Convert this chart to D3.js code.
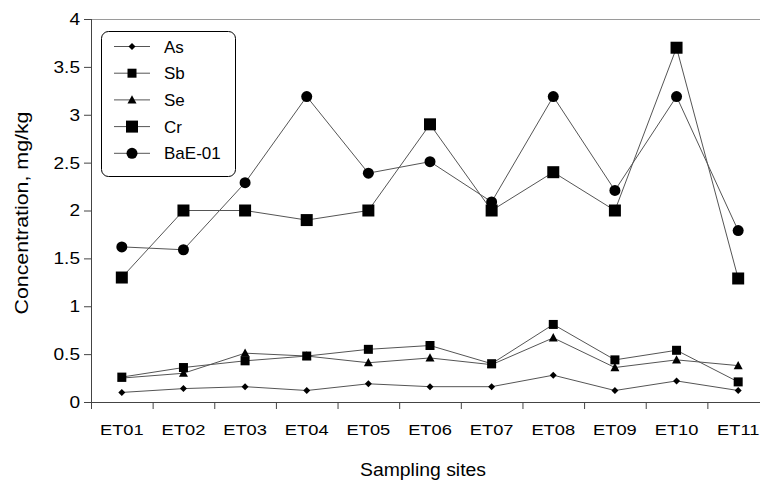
<!DOCTYPE html>
<html><head><meta charset="utf-8">
<script src="https://cdn.jsdelivr.net/npm/d3@7"></script>
<style>body{margin:0;background:#fff}svg{display:block}text{font-family:"Liberation Sans",Arial,sans-serif;fill:#000}</style>
</head><body><svg id="c" width="760" height="481"></svg>
<script>
const sites = ["ET01","ET02","ET03","ET04","ET05","ET06","ET07","ET08","ET09","ET10","ET11"];
const asVals = [0.10,0.14,0.16,0.12,0.19,0.16,0.16,0.28,0.12,0.22,0.12];
const sbVals = [0.26,0.36,0.43,0.48,0.55,0.59,0.40,0.81,0.44,0.54,0.21];
const seVals = [0.25,0.30,0.51,0.48,0.41,0.46,0.39,0.67,0.36,0.44,0.38];
const crVals = [1.30,2.00,2.00,1.90,2.00,2.90,2.00,2.40,2.00,3.70,1.29];
const baVals = [1.62,1.59,2.29,3.19,2.39,2.51,2.09,3.19,2.21,3.19,1.79];
const yTicks = [0,0.5,1,1.5,2,2.5,3,3.5,4];
const yTickLabels = ["0","0.5","1","1.5","2","2.5","3","3.5","4"];
const seriesNames = ["As","Sb","Se","Cr","BaE-01"];

const series = [
  {name:"As", vals:asVals, shape:"diamond", size:7},
  {name:"Sb", vals:sbVals, shape:"square", size:9},
  {name:"Se", vals:seVals, shape:"triangle", size:9},
  {name:"Cr", vals:crVals, shape:"square", size:12},
  {name:"BaE-01", vals:baVals, shape:"circle", size:11}
];

const svg = d3.select("#c");
const pL = 91, pR = 769, pT = 19, pB = 402;
const x = d3.scaleBand().domain(sites).range([pL, pR]);
const y = d3.scaleLinear().domain([0,4]).range([pB, pT]);

function markerPath(shape, s){
  const h = s/2;
  if(shape==="square") return `M${-h},${-h}h${s}v${s}h${-s}Z`;
  if(shape==="diamond") return `M0,${-h}L${h},0L0,${h}L${-h},0Z`;
  if(shape==="triangle") return `M0,${-h*1.05}L${h},${h*0.8}L${-h},${h*0.8}Z`;
  return d3.symbol(d3.symbolCircle, Math.PI*h*h)();
}
function widen(sel, f){
  sel.each(function(){
    const w = this.getComputedTextLength();
    d3.select(this).attr("textLength", w*f).attr("lengthAdjust","spacingAndGlyphs");
  });
}

// top frame
svg.append("line").attr("x1",pL).attr("x2",760).attr("y1",pT+0.5).attr("y2",pT+0.5)
  .attr("stroke","#9a9a9a").attr("stroke-width",1);

// y axis
const yAxis = d3.axisLeft(y).tickValues(yTicks).tickFormat((d,i)=>yTickLabels[i]).tickSize(7).tickPadding(4);
const gy = svg.append("g").attr("transform",`translate(${pL},0)`).call(yAxis);
gy.select(".domain").attr("stroke","#444").attr("d",`M0.5,${pT}V${pB}`);
gy.selectAll(".tick line").attr("stroke","#444");
gy.selectAll("text").style("font-size","17px").attr("fill","#000");
widen(gy.selectAll("text"), 1.12);

// x axis
const xAxis = d3.axisBottom(x).tickSize(0).tickPadding(21);
const gx = svg.append("g").attr("transform",`translate(0,${pB})`).call(xAxis);
gx.select(".domain").attr("stroke","#444");
gx.selectAll("text").style("font-size","15.5px").attr("fill","#000").attr("dy","0.78em");
widen(gx.selectAll("text"), 1.18);
const bounds = sites.map(s=>x(s)).concat([pR]);
gx.selectAll(".btick").data(bounds).enter().append("line")
  .attr("x1",d=>d+0.5).attr("x2",d=>d+0.5).attr("y1",0).attr("y2",7).attr("stroke","#444");

// titles
const xt = svg.append("text").attr("x",423).attr("y",476).attr("text-anchor","middle").style("font-size","17.5px").text("Sampling sites");
xt.attr("textLength",126).attr("lengthAdjust","spacingAndGlyphs");
const yt = svg.append("text").attr("transform","translate(28,213) rotate(-90)").attr("text-anchor","middle").style("font-size","18px").text("Concentration, mg/kg");
yt.attr("textLength",203).attr("lengthAdjust","spacingAndGlyphs");

const cx = d => x(d) + x.bandwidth()/2;
const line = d3.line().x(d=>cx(d.s)).y(d=>y(d.v));

series.forEach(sr=>{
  const pts = sites.map((s,i)=>({s, v:sr.vals[i]}));
  svg.append("path").datum(pts).attr("d",line).attr("fill","none").attr("stroke","#555").attr("stroke-width",1);
});
series.forEach(sr=>{
  const pts = sites.map((s,i)=>({s, v:sr.vals[i]}));
  svg.append("g").selectAll("path").data(pts).enter().append("path")
    .attr("d",markerPath(sr.shape, sr.size))
    .attr("transform",d=>`translate(${cx(d.s)},${y(d.v)})`)
    .attr("fill","#000");
});

// legend
const lg = svg.append("g");
lg.append("rect").attr("x",101.5).attr("y",31.5).attr("width",134).attr("height",145).attr("rx",7)
  .attr("fill","#fff").attr("stroke","#000").attr("stroke-width",1);
series.forEach((sr,i)=>{
  const yy = 46.5 + i*26.7;
  lg.append("line").attr("x1",114).attr("x2",150).attr("y1",yy).attr("y2",yy).attr("stroke","#555");
  lg.append("path").attr("d",markerPath(sr.shape, sr.size)).attr("transform",`translate(132,${yy})`).attr("fill","#000");
  lg.append("text").attr("x",164).attr("y",yy).attr("dy","0.36em").style("font-size","17px").text(seriesNames[i]);
});
</script></body></html>
